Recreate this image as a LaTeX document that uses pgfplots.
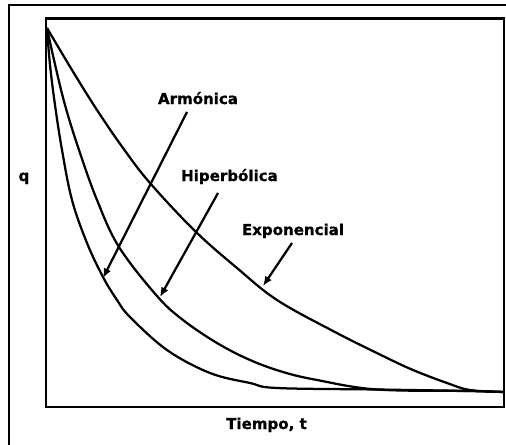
\documentclass[border=0pt]{standalone}
\usepackage{fontspec}
\setmainfont{DejaVu Sans}
\newfontfamily\labfont{DejaVu Sans}[BoldFeatures={FakeBold=1}]
\usepackage{pgfplots}
\pgfplotsset{compat=1.18}
\usetikzlibrary{arrows.meta}
\newcommand\lab{\labfont\fontsize{10.7}{12}\selectfont\bfseries}
\begin{document}
\begin{tikzpicture}[
    curva/.style={black, line width=1.6pt, smooth, tension=0.6, mark=none},
    flecha/.style={line width=1.6pt, -{Latex[length=0.24cm,width=0.2cm]}},
]
\useasboundingbox (0,0) rectangle (12.65,11.1);
% marco exterior (recortado)
\draw[line width=1.6pt] (0.225,-0.5) -- (0.225,10.975) -- (13,10.975);
\begin{axis}[
    at={(1.15cm,0.925cm)}, anchor=south west,
    width=11.45cm, height=9.7125cm, scale only axis,
    xmin=0, xmax=458, ymin=0, ymax=388.5,
    xtick=\empty, ytick=\empty,
    clip=false,
    axis line style={line width=1.6pt},
]
% exponencial
\addplot[curva] coordinates {
  (1,379) (26,337) (51,297) (77,259) (104,224) (149,176) (191,139)
  (231,107) (287,76) (337,51) (367,37) (401,24) (424,17) (458,15)
};
% hiperbolica
\addplot[curva] coordinates {
  (1,379) (8,347) (19,302) (33,257) (51,207) (73,160) (111,111)
  (137,87) (171,64) (204,47) (237,35) (271,27) (331,17.5) (424,16) (458,15)
};
% armonica
\addplot[curva] coordinates {
  (1,379) (4,342) (9,302) (16,257) (26,207) (41,164) (57,130) (71,107)
  (84,90) (121,57) (164,34) (204,24) (231,19) (331,17.5) (424,16) (458,15)
};
\draw[flecha] (axis cs:141,295) -- (axis cs:57,129);
\draw[flecha] (axis cs:172,214) -- (axis cs:114,110);
\draw[flecha] (axis cs:246,164) -- (axis cs:217,121);
\node[anchor=base, inner sep=0pt, font=\lab] at (axis cs:152,303) {Armónica};
\node[anchor=base, inner sep=0pt, font=\lab] at (axis cs:183.5,226) {Hiperbólica};
\node[anchor=base, inner sep=0pt, font=\lab] at (axis cs:247,172) {Exponencial};
\node[anchor=base, inner sep=0pt, font=\lab] at (axis cs:-22,226) {q};
\node[anchor=base, inner sep=0pt, font=\lab] at (axis cs:220.5,-22) {Tiempo, t};
\end{axis}
\end{tikzpicture}
\end{document}
